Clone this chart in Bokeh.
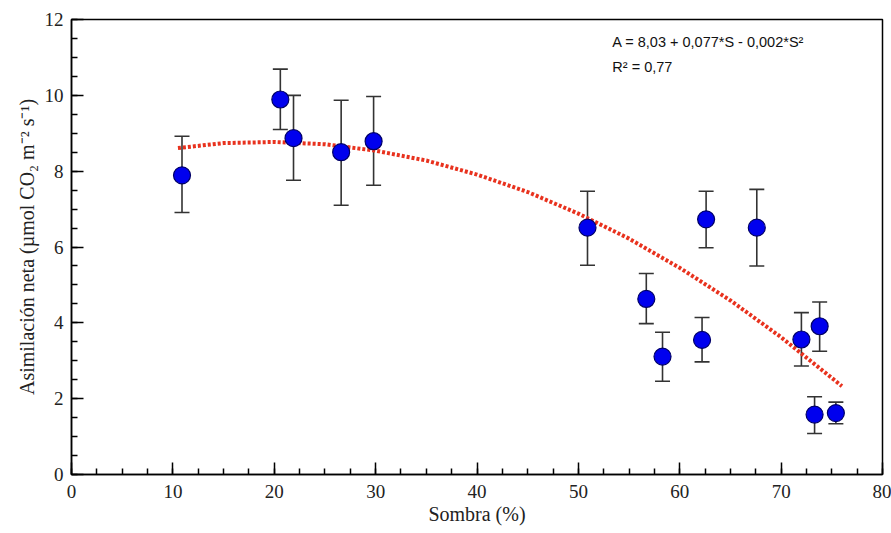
from bokeh.plotting import figure
from bokeh.models import ColumnDataSource, Whisker, TeeHead, Label, FixedTicker, Range1d
from bokeh.embed import file_html
from bokeh.resources import INLINE

# Data
sombra = [10.9, 20.6, 21.9, 26.6, 29.8, 50.9, 56.7, 58.3, 62.2, 62.6, 67.6, 72.0, 73.8, 73.3, 75.4]
asim = [7.89, 9.89, 8.87, 8.50, 8.79, 6.51, 4.63, 3.11, 3.55, 6.73, 6.51, 3.56, 3.91, 1.58, 1.62]
err_hi = [8.92, 10.69, 10.00, 9.87, 9.97, 7.47, 5.30, 3.75, 4.14, 7.47, 7.52, 4.27, 4.55, 2.05, 1.91]
err_lo = [6.91, 9.10, 7.76, 7.10, 7.63, 5.52, 3.98, 2.46, 2.97, 5.98, 5.50, 2.86, 3.25, 1.08, 1.34]

# Fitted curve, points
curve_s = [10.5, 15, 20, 25, 30, 35, 40, 45, 50, 55, 60, 65, 70, 76]
curve_a = [8.61, 8.74, 8.77, 8.71, 8.54, 8.28, 7.91, 7.45, 6.88, 6.22, 5.45, 4.59, 3.62, 2.33]

x_ticks = [0, 10, 20, 30, 40, 50, 60, 70, 80]
y_ticks = [0, 2, 4, 6, 8, 10, 12]

eq_text = "A = 8,03 + 0,077*S - 0,002*S²"
r2_text = "R² = 0,77"

p = figure(width=891, height=533, output_backend="svg", toolbar_location=None,
           x_range=Range1d(0, 80), y_range=Range1d(0, 12),
           min_border_left=71, min_border_right=9, min_border_top=19, min_border_bottom=59)
p.xgrid.visible = False
p.ygrid.visible = False
p.outline_line_color = "black"
p.outline_line_width = 1.5
p.background_fill_color = "white"
p.border_fill_color = "white"

serif = "Liberation Serif"
for ax in (p.xaxis[0], p.yaxis[0]):
    ax.axis_line_width = 1.5
    ax.major_tick_in = 12
    ax.major_tick_out = 0
    ax.minor_tick_in = 6
    ax.minor_tick_out = 0
    ax.major_tick_line_width = 1.5
    ax.minor_tick_line_width = 1.5
    ax.major_label_text_font = serif
    ax.major_label_text_font_size = "19px"
    ax.major_label_text_color = "#222222"
    ax.axis_label_text_font = serif
    ax.axis_label_text_font_size = "20px"
    ax.axis_label_text_font_style = "normal"
    ax.axis_label_text_color = "#222222"

p.xaxis.ticker = FixedTicker(ticks=x_ticks, minor_ticks=[i * 2.5 for i in range(33)])
p.yaxis.ticker = FixedTicker(ticks=y_ticks, minor_ticks=[i * 0.5 for i in range(25)])
p.xaxis.major_label_standoff = 10
p.yaxis.major_label_standoff = 8
p.xaxis.axis_label = "Sombra (%)"
p.yaxis.axis_label = "Asimilación neta (µmol CO₂ m⁻² s⁻¹)"
p.xaxis.axis_label_standoff = 2
p.yaxis.axis_label_standoff = 4

src = ColumnDataSource(dict(s=sombra, a=asim, hi=err_hi, lo=err_lo))

w = Whisker(base="s", upper="hi", lower="lo", source=src,
            line_color="#333333", line_width=1.6,
            upper_head=TeeHead(size=15, line_color="#333333", line_width=1.6),
            lower_head=TeeHead(size=15, line_color="#333333", line_width=1.6))
p.add_layout(w)

p.line(curve_s, curve_a, line_color="#e8321e", line_width=4, line_dash="3 2")

p.scatter("s", "a", source=src, size=17, fill_color="#0000ee",
          line_color="#000066", line_width=1.2)

p.add_layout(Label(x=53.35, y=11.4, text=eq_text, text_font="Liberation Sans",
                   text_font_size="14.5px", text_color="#111111", text_baseline="alphabetic"))
p.add_layout(Label(x=53.35, y=10.74, text=r2_text, text_font="Liberation Sans",
                   text_font_size="14.5px", text_color="#111111", text_baseline="alphabetic"))

open("out.html", "w").write(file_html(p, INLINE))
